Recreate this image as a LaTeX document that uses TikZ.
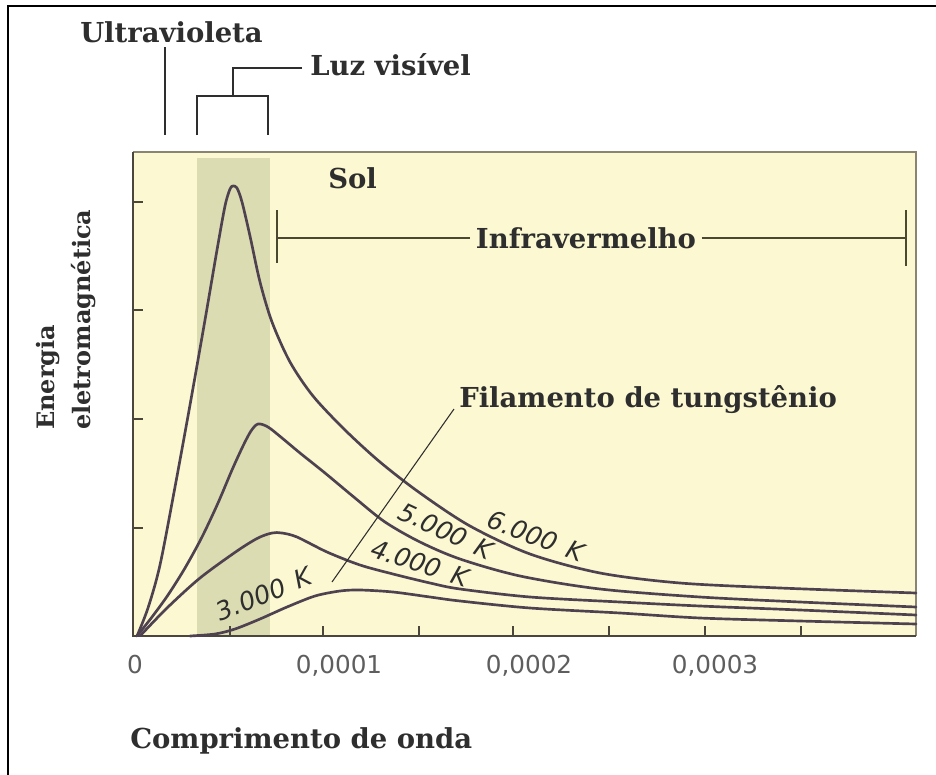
\documentclass[tikz,border=0pt]{standalone}
\usepackage{fontspec}
\setmainfont{DejaVu Serif}
\setsansfont{DejaVu Sans}
\definecolor{plotbg}{HTML}{FBF8D2}
\definecolor{bandc}{HTML}{DCDCB2}
\definecolor{curvec}{HTML}{4F4250}
\definecolor{framec}{HTML}{8A8570}
\definecolor{axisc}{HTML}{4A463C}
\definecolor{txtc}{HTML}{2E2E2E}
\definecolor{tickc}{HTML}{5E5E5E}
\definecolor{irc}{HTML}{4A4830}
\begin{document}
\begin{tikzpicture}[x=0.75pt,y=-0.75pt,
  curve/.style={draw=curvec, line width=2pt, line join=round, line cap=round},
  lbl/.style={font=\fontsize{20.6}{24}\selectfont\bfseries, text=txtc, inner sep=0pt},
  ylbl/.style={font=\fontsize{18}{22}\selectfont\bfseries, text=txtc, inner sep=0pt},
  ticklbl/.style={font=\sffamily\fontsize{18.5}{22}\selectfont, text=tickc, inner sep=0pt},
  templbl/.style={font=\sffamily\itshape\fontsize{19}{22}\selectfont, text=txtc, inner sep=0pt},
  brk/.style={draw=txtc, line width=0.9pt},
  irline/.style={draw=irc, line width=1.1pt},
  framel/.style={draw=framec, line width=0.8pt},
  axisl/.style={draw=axisc, line width=1.1pt}]
\useasboundingbox (0,0) rectangle (936,775);
\fill[white] (0,0) rectangle (936,775);
% outer border
\draw[black, line width=1.5pt] (8,775) -- (8,6) -- (936,6);
% plot area
\fill[plotbg] (133,152) rectangle (916,636);
\fill[bandc] (197,158) rectangle (270,636);
\draw[framel] (133,152) -- (916,152) -- (916,636);
\draw[axisl] (133,152) -- (133,636) -- (916,636);
\foreach \y in {202,310,419,528} \draw[axisl] (133,\y) -- (143,\y);
\foreach \x in {230,323,419,513,609,705,801} \draw[axisl] (\x,636) -- (\x,626);
% curves
\draw[curve] plot[smooth, tension=0.5] coordinates {(137,636) (148,608) (160,565) (175,487) (190,405) (205,320) (217,250) (225,206) (230,189) (233,186) (237,188) (242,202) (250,236) (260,282) (272,322) (290,362) (313,396) (345,430) (380,462) (420,493) (470,526) (530,554) (600,573) (680,583) (780,588) (916,593)};
\draw[curve] plot[smooth, tension=0.5] coordinates {(137,636) (152,617) (168,595) (185,568) (202,537) (218,503) (232,470) (243,446) (251,431) (258,424) (268,427) (282,438) (300,453) (325,473) (355,498) (385,522) (420,542) (460,559) (520,576) (600,589) (700,597) (800,602) (916,607)};
\draw[curve] plot[smooth, tension=0.5] coordinates {(140,636) (167,608) (200,578) (237,551) (258,538) (272,533) (282,533) (297,537) (327,552) (360,565) (393,574) (430,583) (460,589) (530,597) (620,602) (700,606) (800,610) (916,615)};
\draw[curve] plot[smooth, tension=0.5] coordinates {(190,636) (215,634) (235,629) (260,619) (287,607) (315,596) (340,591) (360,590) (393,592) (430,597) (460,601) (530,608) (620,613) (700,618) (800,621) (916,624)};
% top labels
\node[lbl, anchor=base west] (uv) at (80,42) {Ultravioleta};
\coordinate (uvtop) at (165,47);
\coordinate (uvbot) at (165,135);
\draw[brk] (uvtop) -- (uvbot);
\node[lbl, anchor=base west] (luz) at (310,75) {Luz visível};
\coordinate (lvend) at (302,68);
\coordinate (lv0) at (233,68);
\coordinate (lv1) at (233,96);
\coordinate (lvl) at (197,135);
\coordinate (lvr) at (268,135);
\draw[brk] (lvend) -- (lv0) -- (lv1);
\draw[brk] (lvl) |- (lv1) -| (lvr);
\node[lbl, anchor=base west] (sol) at (328,188) {Sol};
% infrared
\node[lbl, anchor=base, inner xsep=4pt] (ir) at (586,248) {Infravermelho};
\coordinate (irl) at (277,238);
\coordinate (irr) at (906,238);
\draw[irline] (irl) -- (irl -| ir.west);
\draw[irline] (ir.east |- irr) -- (irr);
\draw[irline] (277,210) -- (277,263);
\draw[irline] (906,210) -- (906,266);
% filament
\node[lbl, anchor=base west] (fil) at (459,407) {Filamento de tungstênio};
\coordinate (fil0) at (332,582);
\coordinate (fil1) at (454,409);
\draw[brk, line width=0.8pt] (fil0) -- (fil1);
% temperatures
\node[templbl, rotate=-21] (t6) at (536,536) {6.000\hspace{0.45em}K};
\node[templbl, rotate=-25] (t5) at (446,531) {5.000\hspace{0.45em}K};
\node[templbl, rotate=-18] (t4) at (420,563) {4.000\hspace{0.45em}K};
\node[templbl, rotate=22] (t3) at (264,594) {3.000\hspace{0.45em}K};
% axis labels
\node[ticklbl, anchor=base] (x0) at (135,673) {0};
\node[ticklbl, anchor=base] (x1) at (339,673) {0,0001};
\node[ticklbl, anchor=base] (x2) at (529,673) {0,0002};
\node[ticklbl, anchor=base] (x3) at (715,673) {0,0003};
\node[lbl, anchor=base west] (xlab) at (130,748) {Comprimento de onda};
\node[ylbl, rotate=90, anchor=base west] (ylab1) at (55,430) {Energia};
\node[ylbl, rotate=90, anchor=base west] (ylab2) at (90,430) {eletromagnética};
\end{tikzpicture}
\end{document}
